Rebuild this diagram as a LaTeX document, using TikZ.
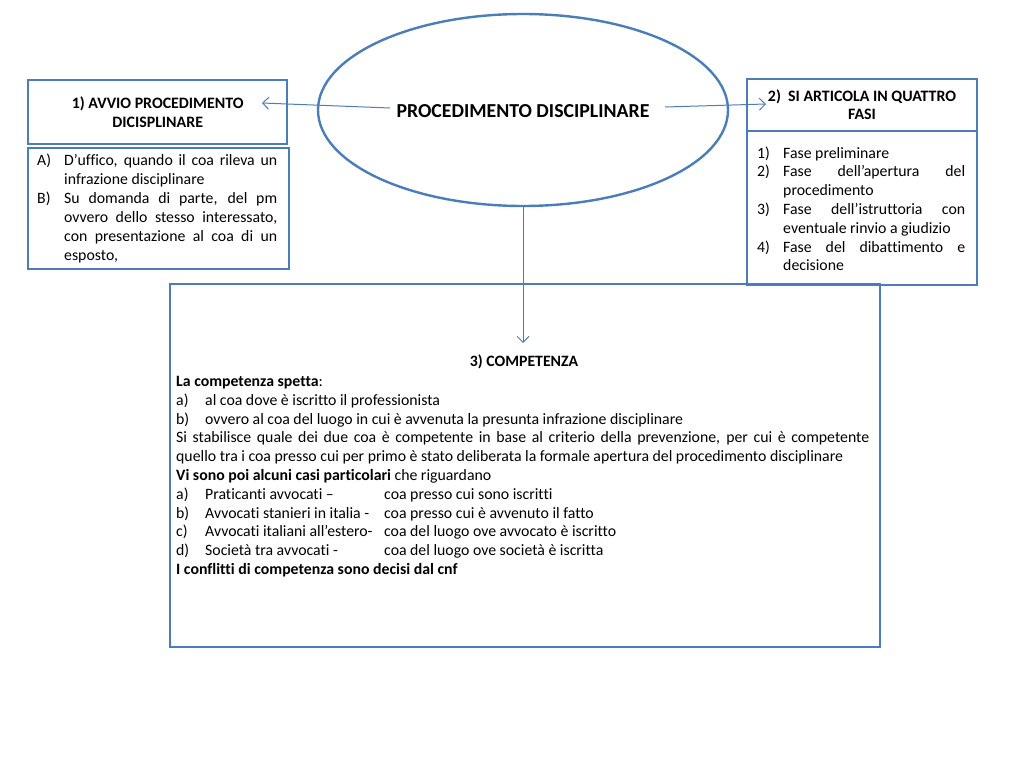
\documentclass[tikz,border=0pt]{standalone}
\usepackage{fontspec}
\setmainfont{Carlito}[Ligatures=CommonOff]
\usetikzlibrary{shapes.geometric,arrows.meta}
\definecolor{bl}{HTML}{4A7EBB}
\newcommand\litem[3]{\par\hangindent=#1\hangafter=1\noindent\makebox[#1][l]{#2}#3\par}
\hyphenpenalty=10000
\exhyphenpenalty=10000
\tolerance=9999
\begin{document}
\begin{tikzpicture}[x=1pt,y=-1pt,
  box/.style={draw=bl,line width=2.4pt,inner sep=0pt,anchor=north west},
  conn/.style={draw=bl,line width=1pt,-{Straight Barb[length=6pt,width=12pt]}},
  hdr/.style={font=\fontsize{15.9}{19}\selectfont\bfseries,align=center,inner sep=0pt},
  body/.style={font=\fontsize{15.8}{18.8}\selectfont,align=justify,inner sep=0pt,anchor=north west}]
\useasboundingbox[fill=white] (0,0) rectangle (1024,768);
% central ellipse
\node[draw=bl,line width=2.4pt,ellipse,minimum width=410pt,minimum height=192pt,inner sep=0pt] (ell) at (523,110) {};
\node[font=\fontsize{19.8}{23}\selectfont\bfseries,inner sep=0pt] (title) at (523,111) {PROCEDIMENTO DISCIPLINARE};
% left boxes
\node[box,minimum width=259pt,minimum height=64pt] (h1) at (27,79) {};
\node[hdr] (h1t) at (h1.center) {1) AVVIO PROCEDIMENTO\\DICISPLINARE};
\node[box,minimum width=261pt,minimum height=121pt] (b1) at (27,147) {};
\node[body,text width=240pt,font=\fontsize{15.8}{19}\selectfont] (b1t) at (37,146) {%
\litem{27pt}{A)}{D’uffico, quando il coa rileva un infrazione disciplinare}%
\litem{27pt}{B)}{Su domanda di parte, del pm ovvero dello stesso interessato, con presentazione al coa di un esposto,}};
% right boxes
\node[box,minimum width=230pt,minimum height=52pt] (h2) at (746,78) {};
\node[hdr,font=\fontsize{15.9}{18}\selectfont\bfseries] (h2t) at (862,105) {2)\ \ SI ARTICOLA IN QUATTRO\\FASI};
\node[box,minimum width=230pt,minimum height=154pt] (b2) at (746,130) {};
\node[body,text width=208pt,font=\fontsize{15.8}{18.8}\selectfont] (b2t) at (757,139) {%
\litem{26pt}{1)}{Fase preliminare}%
\litem{26pt}{2)}{Fase dell’apertura del procedimento}%
\litem{26pt}{3)}{Fase dell’istruttoria con eventuale rinvio a giudizio}%
\litem{26pt}{4)}{Fase del dibattimento e decisione}};
% big box
\node[box,minimum width=710pt,minimum height=363pt] (b3) at (169,283) {};
\node[font=\fontsize{15.8}{18.8}\selectfont\bfseries,inner sep=0pt] (b3h) at (524,362) {3) COMPETENZA};
\node[body,text width=693pt] (b3t) at (176,376) {%
\noindent\textbf{La competenza spetta}:\par
\litem{29pt}{a)}{al coa dove è iscritto il professionista}%
\litem{29pt}{b)}{ovvero al coa del luogo in cui è avvenuta la presunta infrazione disciplinare}%
\noindent Si stabilisce quale dei due coa è competente in base al criterio della prevenzione, per cui è competente\linebreak quello tra i coa presso cui per primo è stato deliberata la formale apertura del procedimento disciplinare\par
\noindent\textbf{Vi sono poi alcuni casi particolari} che riguardano\par
\litem{29pt}{a)}{\makebox[179pt][l]{Praticanti avvocati –}coa presso cui sono iscritti}%
\litem{29pt}{b)}{\makebox[179pt][l]{Avvocati stanieri in italia -}coa presso cui è avvenuto il fatto}%
\litem{29pt}{c)}{\makebox[179pt][l]{Avvocati italiani all’estero-}coa del luogo ove avvocato è iscritto}%
\litem{29pt}{d)}{\makebox[179pt][l]{Società tra avvocati -}coa del luogo ove società è iscritta}%
\noindent\textbf{I conflitti di competenza sono decisi dal cnf}\par};
% connectors
\coordinate (lt) at (390,108);
\coordinate (lh) at (262,103);
\coordinate (rt) at (665,107);
\coordinate (rh) at (766,104);
\coordinate (dh) at (523,343);
\draw[conn] (lt) -- (lh);
\draw[conn] (rt) -- (rh);
\draw[conn] (ell.south) -- (dh);
\end{tikzpicture}
\end{document}
